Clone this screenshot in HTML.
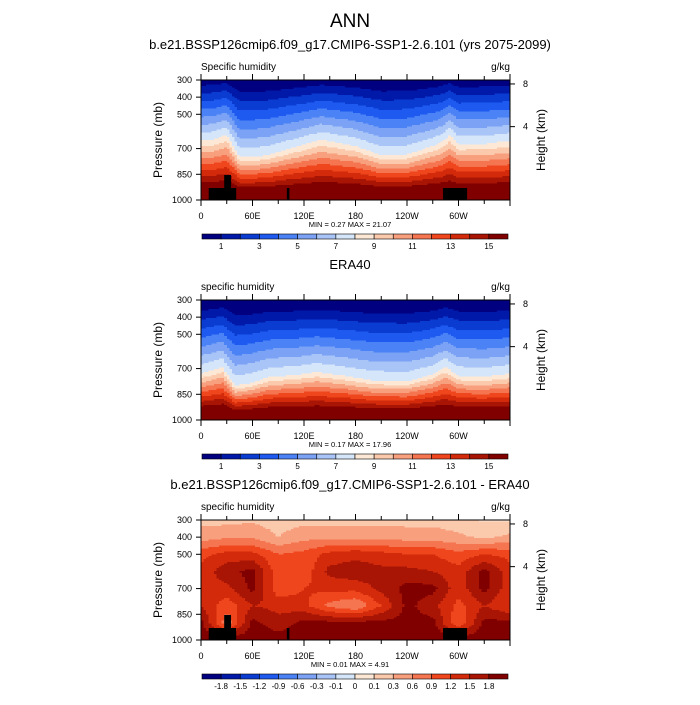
<!DOCTYPE html>
<html><head><meta charset="utf-8"><style>
body{margin:0;background:#fff;}
svg text{font-family:"Liberation Sans",sans-serif;fill:#000;}
</style></head><body>
<svg id="fig" width="700" height="700" viewBox="0 0 700 700" xmlns="http://www.w3.org/2000/svg">
<text x="350" y="27" font-size="19" text-anchor="middle">ANN</text>
</svg>
<script>
// ---- data ----
const lonTicks = [0,60,120,180,240,300];
const lonTickLabels = ["0","60E","120E","180","120W","60W"];
const presTicks = [300,400,500,700,850,1000];
const heightTicks = [8,4];
const qLevels = [1,2,3,4,5,6,7,8,9,10,11,12,13,14,15];
const qLabels = ["1","3","5","7","9","11","13","15"];
const dLevels = [-1.8,-1.5,-1.2,-0.9,-0.6,-0.3,-0.1,0,0.1,0.3,0.6,0.9,1.2,1.5,1.8];
const dLabels = ["-1.8","-1.5","-1.2","-0.9","-0.6","-0.3","-0.1","0","0.1","0.3","0.6","0.9","1.2","1.5","1.8"];
const colors = ['#000080','#0019a8','#0a3cd2','#1e5af0','#4b82f5','#7ba2f5','#a9c4f7','#d5e6fa','#fde8d6','#fbc9ac','#f8a07e','#f57550','#f0461e','#d22a0a','#a81505','#800000'];
// panel 1 & 2: pressure (mb) of the 8 g/kg contour vs longitude
const p8Lons1 = [0,15,30,45,60,80,100,115,140,180,210,240,270,280,290,300,330,360];
const p8Vals1 = [655,645,620,750,750,735,705,685,648,685,740,735,685,665,623,675,673,655];
const p8Lons2 = [0,25,40,60,80,110,135,170,200,240,270,285,300,330,360];
const p8Vals2 = [730,690,800,782,748,738,720,744,770,775,733,690,742,748,730];
// panel 3: difference grid
const dLons = [0,30,60,90,120,150,180,210,240,270,300,330,360];
const dPres = [300,400,500,600,700,800,900,1000];
const dGrid = [
 [.2,.2,.25,.15,.2,.2,.2,.2,.2,.2,.15,.08,.08],
 [.45,.55,.55,.3,.5,.5,.5,.5,.45,.45,.35,.25,.35],
 [1.1,1.3,1.3,.9,1.0,1.3,1.4,1.3,1.2,1.2,1.0,1.2,1.1],
 [1.3,1.7,1.9,1.0,1.0,1.6,1.7,1.6,1.6,1.5,1.3,1.9,1.3],
 [1.4,1.4,1.9,1.0,1.2,1.3,1.3,1.6,1.9,1.9,1.3,1.9,1.3],
 [1.5,1.0,1.5,1.4,1.3,.8,.6,1.2,1.9,1.6,1.1,1.5,1.2],
 [1.9,.7,1.9,1.6,1.9,1.9,1.9,1.9,1.9,1.9,.9,1.9,1.9],
 [2.0,2.0,2.0,2.0,2.0,2.0,2.0,2.0,2.0,2.0,2.0,2.0,2.0]];
// topography blocks: [lon0, lon1, pressure top]
const topoLon0 = [9,27,100,282];
const topoLon1 = [41,35,103,310];
const topoTop = [930,854,930,930];
const stats = [["0.27","21.07"],["0.17","17.96"],["0.01","4.91"]];
const titles = ["b.e21.BSSP126cmip6.f09_g17.CMIP6-SSP1-2.6.101 (yrs 2075-2099)","ERA40","b.e21.BSSP126cmip6.f09_g17.CMIP6-SSP1-2.6.101 - ERA40"];
const leftLabels = ["Specific humidity","specific humidity","specific humidity"];

// ---- helpers ----
const NS="http://www.w3.org/2000/svg";
const svg=document.getElementById('fig');
function mk(tag,attrs,parent){const e=document.createElementNS(NS,tag);for(const k in attrs)e.setAttribute(k,attrs[k]);(parent||svg).appendChild(e);return e;}
const X0=201,X1=510,H=120;
function xs(lon){return X0+(lon/360)*(X1-X0);}
function ys(p,top){return top+(p-300)/700*H;}
function interp(xa,ya,x){for(let i=0;i<xa.length-1;i++){if(x<=xa[i+1]){const t=(x-xa[i])/(xa[i+1]-xa[i]);return ya[i]+t*(ya[i+1]-ya[i]);}}return ya[ya.length-1];}
function bin(v,levels){let i=0;while(i<levels.length&&v>=levels[i])i++;return i;}
function qField(lons,vals){return function(lon,p){
 const p8=interp(lons,vals,lon);const pT=0.4*p8+70,p15=0.3*p8+700;
 if(p<p8) return 1+7*(p-pT)/(p8-pT);
 return 8+7*(p-p8)/(p15-p8);};}
function dField(lon,p){
 let j=0;while(j<dLons.length-2&&lon>dLons[j+1])j++;
 let i=0;while(i<dPres.length-2&&p>dPres[i+1])i++;
 const tx=(lon-dLons[j])/(dLons[j+1]-dLons[j]),ty=(p-dPres[i])/(dPres[i+1]-dPres[i]);
 const a=dGrid[i][j],b=dGrid[i][j+1],c=dGrid[i+1][j],d=dGrid[i+1][j+1];
 return a*(1-tx)*(1-ty)+b*tx*(1-ty)+c*(1-tx)*ty+d*tx*ty;}

function panel(idx,top,field,levels,labels,labelEvery){
 const g=mk('g',{});
 
 
 const tt=mk('text',{x:350,y:top-31,'font-size':13,'text-anchor':'middle'});tt.textContent=titles[idx];
 
 
 const ll=mk('text',{x:X0,y:top-10,'font-size':10});ll.textContent=leftLabels[idx];
 
 
 const ul=mk('text',{x:X1,y:top-10,'font-size':10,'text-anchor':'end'});ul.textContent="g/kg";
 
 
 const fg=mk('g',{'shape-rendering':'crispEdges'},g);
 
 
 const nx=120,ny=80;
 for(let i=0;i<nx;i++){const lon=(i+0.5)*360/nx;
  let runStart=0,runC=null;
  for(let j=0;j<=ny;j++){let c=null;
   if(j<ny){const p=300+(j+0.5)*700/ny;c=colors[bin(field(lon,p),levels)];}
   if(c!==runC){if(runC!==null){mk('rect',{x:(X0+i*(X1-X0)/nx).toFixed(2),y:(top+runStart*H/ny).toFixed(2),width:((X1-X0)/nx+0.4).toFixed(2),height:((j-runStart)*H/ny+0.4).toFixed(2),fill:runC},fg);}
    runStart=j;runC=c;}
  }}
 if(idx!==1){for(let k=0;k<topoLon0.length;k++){const r=mk('rect',{x:xs(topoLon0[k]),y:ys(topoTop[k],top),width:xs(topoLon1[k])-xs(topoLon0[k]),height:top+H-ys(topoTop[k],top),fill:'#000'},g);
  
  }}
 mk('rect',{x:X0,y:top,width:X1-X0,height:H,fill:'none',stroke:'#000','stroke-width':1},g);
 for(let l=0;l<=360;l+=30){const x=xs(l);const len=(l%60===0)?6:4;
  mk('line',{x1:x,x2:x,y1:top+H,y2:top+H+len,stroke:'#000'},g);mk('line',{x1:x,x2:x,y1:top,y2:top-len,stroke:'#000'},g);}
 lonTicks.forEach((l,k)=>{const t=mk('text',{x:xs(l),y:top+H+19,'font-size':9,'text-anchor':'middle'},g);t.textContent=lonTickLabels[k];
  
  });
 presTicks.forEach(p=>{const y=ys(p,top);mk('line',{x1:X0-5,x2:X0,y1:y,y2:y,stroke:'#000'},g);
  const t=mk('text',{x:X0-9,y:y+3,'font-size':9,'text-anchor':'end'},g);t.textContent=p;
  
  });
 heightTicks.forEach(h=>{const p=1013*Math.exp(-h/7.0);const y=ys(p,top);mk('line',{x1:X1,x2:X1+5,y1:y,y2:y,stroke:'#000'},g);
  const t=mk('text',{x:X1+13,y:y+3,'font-size':9},g);t.textContent=h;
  
  });
 const yl=mk('text',{x:0,y:0,'font-size':12,'text-anchor':'middle',transform:`translate(162,${top+60}) rotate(-90)`},g);yl.textContent="Pressure (mb)";
 
 
 const yr=mk('text',{x:0,y:0,'font-size':12,'text-anchor':'middle',transform:`translate(545,${top+60}) rotate(-90)`},g);yr.textContent="Height (km)";
 
 
 const mm=mk('text',{x:350,y:top+H+27,'font-size':7.5,'text-anchor':'middle'},g);mm.textContent=`MIN =   ${stats[idx][0]}  MAX =   ${stats[idx][1]}`;
 
 
 const cb=mk('g',{},g);
 
 
 const cx0=202,cx1=508,cy=top+H+34,w=(cx1-cx0)/16;
 colors.forEach((c,k)=>{mk('rect',{x:cx0+k*w,y:cy,width:w,height:5,fill:c,stroke:'#000','stroke-width':0.6},cb);});
 levels.forEach((lv,k)=>{if(k%labelEvery!==0)return;const t=mk('text',{x:cx0+(k+1)*w,y:cy+15,'font-size':8,'text-anchor':'middle'},cb);t.textContent=labels[k/labelEvery];
  
  });
}
panel(0,80,qField(p8Lons1,p8Vals1),qLevels,qLabels,2);
panel(1,300,qField(p8Lons2,p8Vals2),qLevels,qLabels,2);
panel(2,520,dField,dLevels,dLabels,1);
</script>
</body></html>
